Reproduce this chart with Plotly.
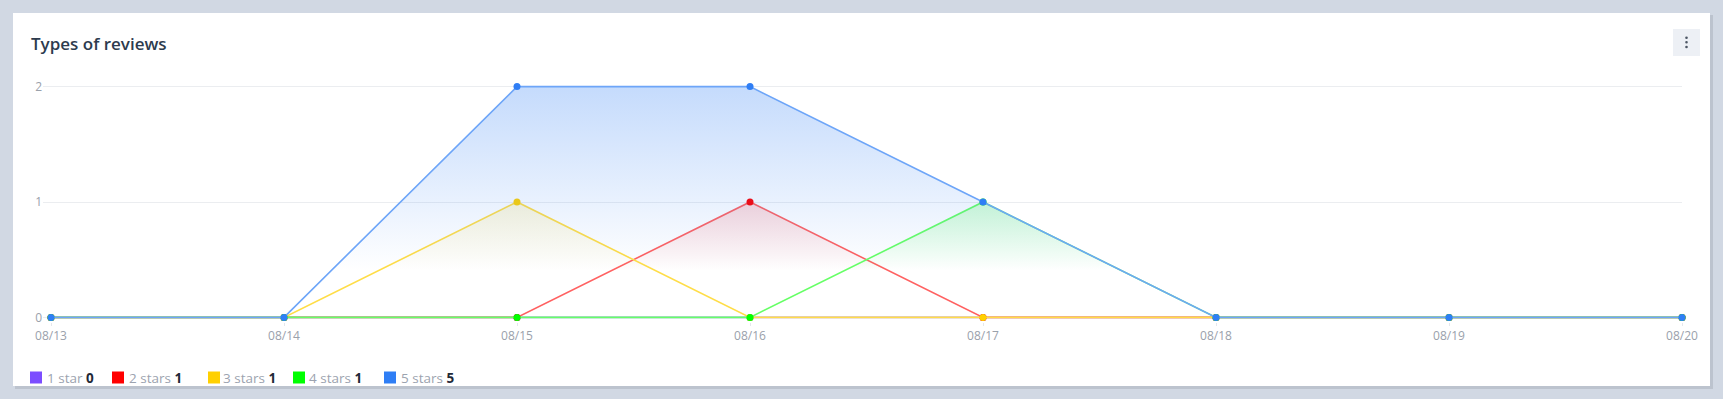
import plotly.graph_objects as go

# ---------------- data ----------------
dates = ["08/13", "08/14", "08/15", "08/16", "08/17", "08/18", "08/19", "08/20"]
one_star = [0, 0, 0, 0, 0, 0, 0, 0]
two_stars = [0, 0, 0, 1, 0, 0, 0, 0]
three_stars = [0, 0, 1, 0, 0, 0, 0, 0]
four_stars = [0, 0, 0, 0, 1, 0, 0, 0]
five_stars = [0, 0, 2, 2, 1, 0, 0, 0]
series_names = ["1 star", "2 stars", "3 stars", "4 stars", "5 stars"]
series_totals = [0, 1, 1, 1, 5]
series_rgb = [(124, 77, 255), (255, 0, 0), (255, 208, 0), (0, 255, 0), (47, 126, 245)]
line_tint = [0.7, 0.62, 0.72, 0.6, 0.7]
fill_alpha = [0.15, 0.15, 0.15, 0.17, 0.28]
title_text = "Types of reviews"

# ---------------- geometry ----------------
W, H = 1723, 399
L, R, T, B = 43, 41, 82, 77
FONT = "Open Sans"

def ox(p):  # pixel x -> offset from paper x=0
    return p - L

def oy(p):  # pixel y -> offset (upward) from paper y=0
    return (H - B) - p

def tint(rgb, a):
    return "rgb({},{},{})".format(*[round(c * a + 255 * (1 - a)) for c in rgb])

x_idx = list(range(len(dates)))
fig = go.Figure()

all_series = [one_star, two_stars, three_stars, four_stars, five_stars]
for name, vals, rgb, la, fa in zip(series_names, all_series, series_rgb, line_tint, fill_alpha):
    r, g, b = rgb
    top = max(vals) if max(vals) > 0 else 1
    fig.add_trace(go.Scatter(
        x=x_idx, y=vals, name=name, mode="lines+markers",
        line=dict(color=tint(rgb, la), width=1.6),
        marker=dict(color=f"rgb({r},{g},{b})", size=7, line=dict(width=0)),
        fill="tozeroy",
        fillgradient=dict(type="vertical",
                          colorscale=[[0, f"rgba({r},{g},{b},0)"], [1, f"rgba({r},{g},{b},{fa})"]],
                          start=0.4, stop=top),
        cliponaxis=False, showlegend=False, hoverinfo="skip",
    ))

shapes = []
# card shadow and card
shapes.append(dict(type="rect", xref="paper", yref="paper", xsizemode="pixel", ysizemode="pixel",
                   xanchor=0, yanchor=0, x0=ox(15), x1=ox(1713), y0=oy(389), y1=oy(15),
                   fillcolor="#bcc3ce", line=dict(width=0), layer="below"))
shapes.append(dict(type="rect", xref="paper", yref="paper", xsizemode="pixel", ysizemode="pixel",
                   xanchor=0, yanchor=0, x0=ox(13), x1=ox(1710), y0=oy(386), y1=oy(13),
                   fillcolor="white", line=dict(width=0), layer="below"))
# menu button
shapes.append(dict(type="rect", xref="paper", yref="paper", xsizemode="pixel", ysizemode="pixel",
                   xanchor=0, yanchor=0, x0=ox(1673), x1=ox(1700), y0=oy(56), y1=oy(29),
                   fillcolor="#edf0f5", line=dict(width=0), layer="above"))
for cy in (37.7, 42.3, 47):
    shapes.append(dict(type="circle", xref="paper", yref="paper", xsizemode="pixel", ysizemode="pixel",
                       xanchor=0, yanchor=0, x0=ox(1685.2), x1=ox(1687.8), y0=oy(cy + 1.3), y1=oy(cy - 1.3),
                       fillcolor="#4b5563", line=dict(width=0), layer="above"))

annotations = [dict(text=title_text, xref="paper", yref="paper", x=0, y=0,
                    xshift=ox(29), yshift=oy(43), xanchor="left", yanchor="middle", showarrow=False,
                    font=dict(family=FONT, size=17, color="#2d3b4e", weight=600))]

# custom legend
sq_x = [30, 112, 208, 293, 384]
txt_x = [45, 127, 221, 307, 399]
for name, total, (r, g, b), sx, tx in zip(series_names, series_totals, series_rgb, sq_x, txt_x):
    shapes.append(dict(type="rect", xref="paper", yref="paper", xsizemode="pixel", ysizemode="pixel",
                       xanchor=0, yanchor=0, x0=ox(sx), x1=ox(sx + 12), y0=oy(383.5), y1=oy(371.5),
                       fillcolor=f"rgb({r},{g},{b})", line=dict(width=0), layer="above"))
    annotations.append(dict(text=f"<span style='color:#9ca3af'>{name}</span> <b>{total}</b>",
                            xref="paper", yref="paper", x=0, y=0, xshift=ox(tx), yshift=oy(377.5),
                            xanchor="left", yanchor="middle", showarrow=False,
                            font=dict(family=FONT, size=13.5, color="#1f2937")))

fig.update_layout(
    width=W, height=H,
    margin=dict(l=L, r=R, t=T, b=B, pad=0),
    paper_bgcolor="#d1d8e3",
    plot_bgcolor="rgba(0,0,0,0)",
    font=dict(family=FONT, size=12, color="#9aa1ab"),
    shapes=shapes, annotations=annotations,
    xaxis=dict(range=[-8 / 233, 7], tickmode="array", tickvals=x_idx, ticktext=dates,
               showgrid=False, zeroline=False, showline=False,
               ticks="outside", ticklen=3, tickcolor="#e5e7eb", tickwidth=1,
               tickfont=dict(size=12, color="#9aa1ab"), fixedrange=True),
    yaxis=dict(range=[-0.04, 2.04], tickmode="array", tickvals=[0, 1, 2], ticktext=["0", "1", "2"],
               showgrid=True, gridcolor="#ebedf0", gridwidth=1, zeroline=False, showline=False,
               ticks="", tickfont=dict(size=12, color="#9aa1ab"), fixedrange=True),
    showlegend=False,
    hovermode=False,
)

fig.write_html("out.html", config={"displayModeBar": False},
               post_script="document.body.style.margin='0';document.body.style.overflow='hidden';")
